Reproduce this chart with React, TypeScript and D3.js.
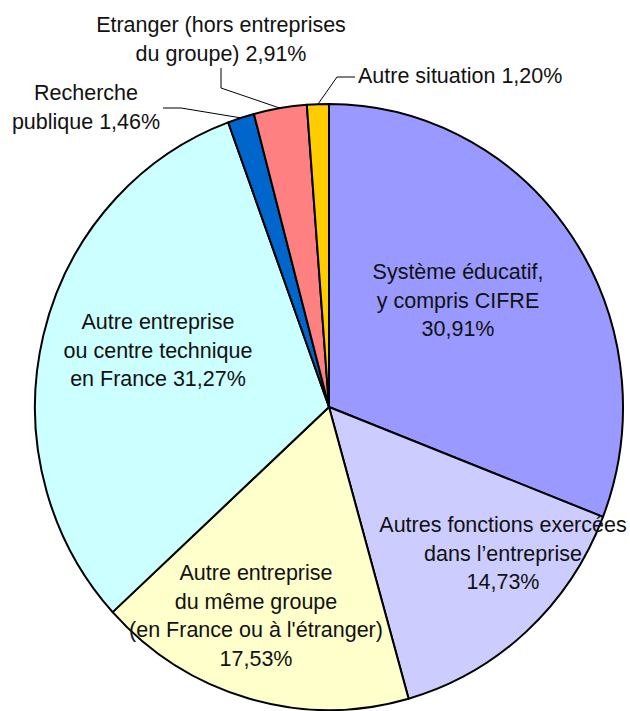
import React from "react";
import * as d3 from "d3";

const categories = [
  "Système éducatif, y compris CIFRE",
  "Autres fonctions exercées dans l’entreprise",
  "Autre entreprise du même groupe (en France ou à l'étranger)",
  "Autre entreprise ou centre technique en France",
  "Recherche publique",
  "Etranger (hors entreprises du groupe)",
  "Autre situation",
];
const values = [30.91, 14.73, 17.53, 31.27, 1.46, 2.91, 1.2];
const colors = ["#9999FF", "#CCCCFF", "#FFFFCC", "#CCFFFF", "#0066CC", "#FF8080", "#FFCC00"];
const labelLines = [
  ["Système éducatif,", "y compris CIFRE", "30,91%"],
  ["Autres fonctions exercées", "dans l’entreprise", "14,73%"],
  ["Autre entreprise", "du même groupe", "(en France ou à l'étranger)", "17,53%"],
  ["Autre entreprise", "ou centre technique", "en France 31,27%"],
  ["Recherche", "publique 1,46%"],
  ["Etranger (hors entreprises", "du groupe) 2,91%"],
  ["Autre situation 1,20%"],
];

const CX = 329;
const CY = 407;
const RX = 294;
const RY = 303;
const LH = 28.5;

// label anchor: [x, first baseline, anchor]
const labelPos: [number, number, string][] = [
  [458, 279, "middle"],
  [503, 532, "middle"],
  [256, 580, "middle"],
  [158, 329, "middle"],
  [86, 100, "middle"],
  [221, 32, "middle"],
  [358, 83, "start"],
];

export default function App() {
  const pie = d3.pie<number>().sort(null).value((d) => d)(values);
  const arc = d3.arc<d3.PieArcDatum<number>>().innerRadius(0).outerRadius(RX);
  const pt = (a: number, f = 1) => [CX + RX * f * Math.sin(a), CY - RY * f * Math.cos(a)];
  const mid = (i: number) => (pie[i].startAngle + pie[i].endAngle) / 2;

  const pR = pt(mid(4));
  const pE = pt(mid(5));
  const pA = pt(mid(6));
  const leaders = [
    `M163,108 L181,108 L${pR[0]},${pR[1]}`,
    `M221,68 L221,88 L${pE[0]},${pE[1]}`,
    `M${pA[0]},${pA[1]} L337,77 L355,77`,
  ];

  return (
    <svg
      width={630}
      height={711}
      style={{ position: "absolute", left: 0, top: 0, background: "#fff" }}
      fontFamily="'Liberation Sans', Arial, sans-serif"
    >
      <g transform={`translate(${CX},${CY}) scale(1,${RY / RX})`}>
        {pie.map((p, i) => (
          <path
            key={categories[i]}
            d={arc(p) || ""}
            fill={colors[i]}
            stroke="#000"
            strokeWidth={2}
            strokeLinejoin="round"
            vectorEffect="non-scaling-stroke"
          />
        ))}
      </g>
      {leaders.map((d, i) => (
        <path key={i} d={d} fill="none" stroke="#000" strokeWidth={1} />
      ))}
      {labelLines.map((lines, i) => (
        <text
          key={i}
          x={labelPos[i][0]}
          y={labelPos[i][1]}
          textAnchor={labelPos[i][2] as any}
          fontSize={21.5}
          fill="#111"
        >
          {lines.map((l, j) => (
            <tspan key={j} x={labelPos[i][0]} y={labelPos[i][1] + j * LH}>
              {l}
            </tspan>
          ))}
        </text>
      ))}
    </svg>
  );
}
